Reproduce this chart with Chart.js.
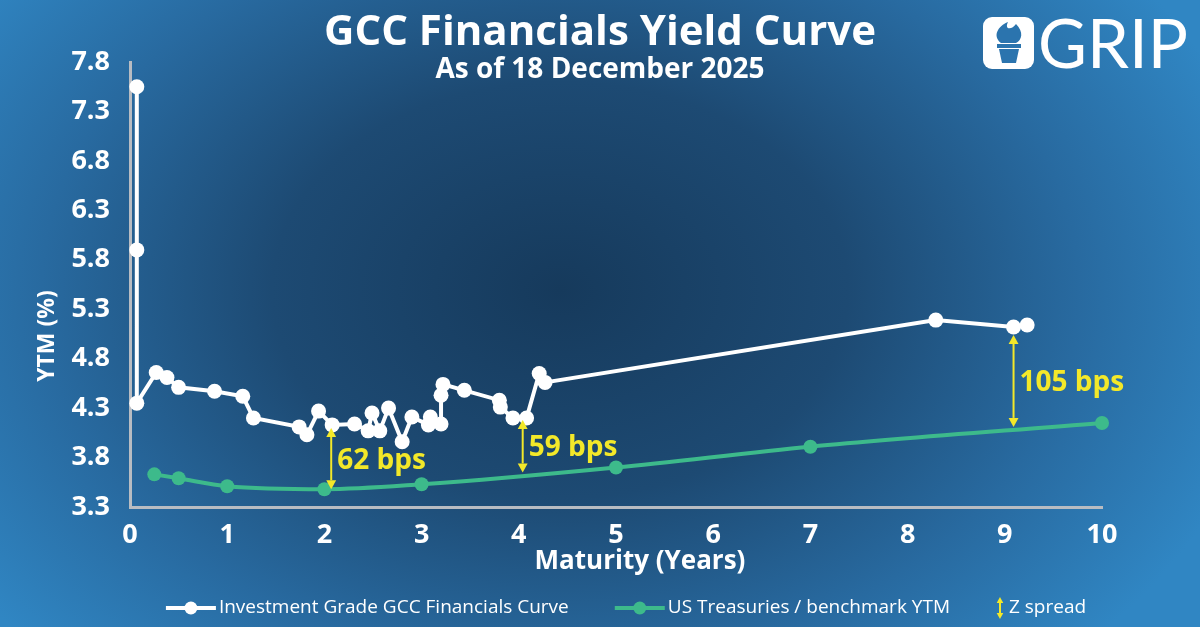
<!DOCTYPE html>
<html>
<head>
<meta charset="utf-8">
<script src="https://cdn.jsdelivr.net/npm/chart.js@4.4.1/dist/chart.umd.min.js"></script>
<style>
  html, body { margin: 0; padding: 0; }
  #wrap {
    width: 1200px; height: 627px; position: relative; overflow: hidden;
    background: radial-gradient(ellipse 720px 520px at 560px 290px, #163a5c 0%, #1d4a73 40%, #286aa0 72%, #3086c3 100%);
  }
  canvas { position: absolute; left: 0; top: 0; }
</style>
</head>
<body>
<div id="wrap"><canvas id="yieldChart" width="1200" height="627"></canvas></div>
<script>
// GCC curve (maturity in years, YTM %)
const gccX = [0.07, 0.07, 0.07, 0.27, 0.38, 0.5, 0.87, 1.16, 1.27, 1.74, 1.82, 1.94, 2.08, 2.31, 2.45, 2.49, 2.57, 2.66, 2.8, 2.9,
              3.07, 3.09, 3.2, 3.2, 3.22, 3.44, 3.8, 3.81, 3.94, 4.08, 4.21, 4.27, 8.29, 9.09, 9.23];
const gccY = [7.55, 5.9, 4.35, 4.66, 4.61, 4.51, 4.47, 4.42, 4.2, 4.11, 4.03, 4.27, 4.13, 4.14, 4.07, 4.25, 4.07, 4.3, 3.96, 4.21,
              4.13, 4.21, 4.14, 4.43, 4.54, 4.48, 4.38, 4.31, 4.2, 4.2, 4.65, 4.56, 5.19, 5.12, 5.14];

// US treasuries benchmark
const ustX = [0.25, 0.5, 1, 2, 3, 5, 7, 10];
const ustY = [3.63, 3.59, 3.51, 3.48, 3.53, 3.70, 3.91, 4.15];

// Z spread arrows
const spreadX = [2.07, 4.04, 9.09];
const spreadTop = [4.10, 4.18, 5.04];
const spreadBottom = [3.48, 3.65, 4.11];
const spreadText = ['62 bps', '59 bps', '105 bps'];

const xTicks = [0, 1, 2, 3, 4, 5, 6, 7, 8, 9, 10];
const yTicks = [3.3, 3.8, 4.3, 4.8, 5.3, 5.8, 6.3, 6.8, 7.3, 7.8];

const WHITE = '#ffffff';
const GREEN = '#3dba8b';
const YELLOW = '#f3e829';
const FONT = "'Open Sans', 'Noto Sans', sans-serif";

function drawArrow(ctx, x, y1, y2, head) {
  ctx.save();
  ctx.strokeStyle = YELLOW;
  ctx.fillStyle = YELLOW;
  ctx.lineWidth = 2;
  ctx.beginPath();
  ctx.moveTo(x, y1 + head);
  ctx.lineTo(x, y2 - head);
  ctx.stroke();
  ctx.beginPath();
  ctx.moveTo(x, y1);
  ctx.lineTo(x - head * 0.55, y1 + head);
  ctx.lineTo(x + head * 0.55, y1 + head);
  ctx.closePath();
  ctx.fill();
  ctx.beginPath();
  ctx.moveTo(x, y2);
  ctx.lineTo(x - head * 0.55, y2 - head);
  ctx.lineTo(x + head * 0.55, y2 - head);
  ctx.closePath();
  ctx.fill();
  ctx.restore();
}

const overlay = {
  id: 'overlay',
  afterDatasetsDraw(chart) {
    const ctx = chart.ctx, xs = chart.scales.x, ys = chart.scales.y;
    for (let i = 0; i < spreadX.length; i++) {
      const px = xs.getPixelForValue(spreadX[i]);
      const y1 = ys.getPixelForValue(spreadTop[i]);
      const y2 = ys.getPixelForValue(spreadBottom[i]);
      drawArrow(ctx, px, y1, y2, 9);
      ctx.save();
      ctx.fillStyle = YELLOW;
      ctx.font = 'bold 28px ' + FONT;
      ctx.textAlign = 'left';
      ctx.textBaseline = 'middle';
      ctx.fillText(spreadText[i], px + 6, (y1 + y2) / 2 + 2);
      ctx.restore();
    }
  },
  afterDraw(chart) {
    const ctx = chart.ctx;
    ctx.save();
    ctx.fillStyle = WHITE;
    ctx.textAlign = 'center';
    ctx.textBaseline = 'middle';
    ctx.font = 'bold 42px ' + FONT;
    ctx.fillText('GCC Financials Yield Curve', 600, 33);
    ctx.font = 'bold 28px ' + FONT;
    ctx.fillText('As of 18 December 2025', 600, 70);

    // axis titles
    ctx.font = 'bold 26px ' + FONT;
    ctx.fillText('Maturity (Years)', 640, 562);
    ctx.save();
    ctx.translate(47, 336);
    ctx.rotate(-Math.PI / 2);
    ctx.font = 'bold 23px ' + FONT;
    ctx.fillText('YTM (%)', 0, 0);
    ctx.restore();

    // legend
    ctx.font = '19px ' + FONT;
    ctx.textAlign = 'left';
    const items = [
      { text: 'Investment Grade GCC Financials Curve', color: WHITE, kind: 'line' },
      { text: 'US Treasuries / benchmark YTM', color: GREEN, kind: 'line' },
      { text: 'Z spread', color: YELLOW, kind: 'arrow' }
    ];
    const ly = 608;
    let total = 0;
    items.forEach((it, i) => {
      it.mw = it.kind === 'line' ? 50 : 10;
      it.tw = ctx.measureText(it.text).width;
      total += it.mw + 3 + it.tw + (i < items.length - 1 ? 46 : 0);
    });
    let lx = 626 - total / 2;
    items.forEach(it => {
      if (it.kind === 'line') {
        ctx.strokeStyle = it.color;
        ctx.fillStyle = it.color;
        ctx.lineWidth = 4;
        ctx.beginPath();
        ctx.moveTo(lx, ly);
        ctx.lineTo(lx + it.mw, ly);
        ctx.stroke();
        ctx.beginPath();
        ctx.arc(lx + it.mw / 2, ly, 6.5, 0, Math.PI * 2);
        ctx.fill();
      } else {
        drawArrow(ctx, lx + 4, ly - 11, ly + 11, 6);
      }
      lx += it.mw + 3;
      ctx.fillStyle = WHITE;
      ctx.fillText(it.text, lx, ly);
      lx += it.tw + 46;
    });

    // GRIP logo
    ctx.fillStyle = WHITE;
    ctx.beginPath();
    ctx.roundRect(983, 17, 51, 52, 9);
    ctx.fill();
    ctx.fillStyle = '#2b74ae';
    ctx.beginPath();
    ctx.moveTo(1001, 43);
    ctx.bezierCurveTo(992, 36, 998, 26, 1008, 22);
    ctx.bezierCurveTo(1004, 30, 1012, 30, 1016, 24);
    ctx.bezierCurveTo(1024, 32, 1022, 40, 1016, 43);
    ctx.closePath();
    ctx.fill();
    ctx.fillRect(997, 44, 24, 4);
    ctx.beginPath();
    ctx.moveTo(999, 49);
    ctx.lineTo(1019, 49);
    ctx.lineTo(1016, 63);
    ctx.lineTo(1002, 63);
    ctx.closePath();
    ctx.fill();
    ctx.fillStyle = WHITE;
    ctx.font = '400 67px Lato, ' + FONT;
    ctx.textBaseline = 'alphabetic';
    ctx.fillText('GRIP', 1038, 68);
    ctx.restore();
  }
};

const ctx = document.getElementById('yieldChart').getContext('2d');
new Chart(ctx, {
  type: 'line',
  data: {
    datasets: [
      {
        label: 'Investment Grade GCC Financials Curve',
        data: gccX.map((x, i) => ({ x: x, y: gccY[i] })),
        borderColor: WHITE,
        backgroundColor: WHITE,
        borderWidth: 4,
        pointRadius: 7.5,
        pointBorderWidth: 0,
        tension: 0
      },
      {
        label: 'US Treasuries / benchmark YTM',
        data: ustX.map((x, i) => ({ x: x, y: ustY[i] })),
        borderColor: GREEN,
        backgroundColor: GREEN,
        borderWidth: 4,
        pointRadius: 7,
        pointBorderWidth: 0,
        cubicInterpolationMode: 'monotone'
      }
    ]
  },
  options: {
    responsive: false,
    animation: false,
    devicePixelRatio: 1,
    clip: false,
    layout: { padding: { top: 62, right: 98, bottom: 0, left: 0 } },
    plugins: { legend: { display: false }, tooltip: { enabled: false } },
    scales: {
      x: {
        type: 'linear', min: 0, max: 10,
        afterBuildTicks: s => { s.ticks = xTicks.map(v => ({ value: v })); },
        afterFit: s => { s.height = 120; },
        grid: { display: false },
        border: { color: '#b8bcc2', width: 3 },
        ticks: { color: WHITE, padding: 4, maxRotation: 0, autoSkip: false,
                 font: { family: FONT, size: 27, weight: 'bold' } }
      },
      y: {
        type: 'linear', min: 3.3, max: 7.8,
        afterBuildTicks: s => { s.ticks = yTicks.map(v => ({ value: v })); },
        afterFit: s => { s.width = 130; },
        grid: { display: false },
        border: { color: '#b8bcc2', width: 3 },
        ticks: { color: WHITE, padding: 12, autoSkip: false,
                 callback: v => Number(v).toFixed(1),
                 font: { family: FONT, size: 27, weight: 'bold' } }
      }
    }
  },
  plugins: [overlay]
});
</script>
</body>
</html>
